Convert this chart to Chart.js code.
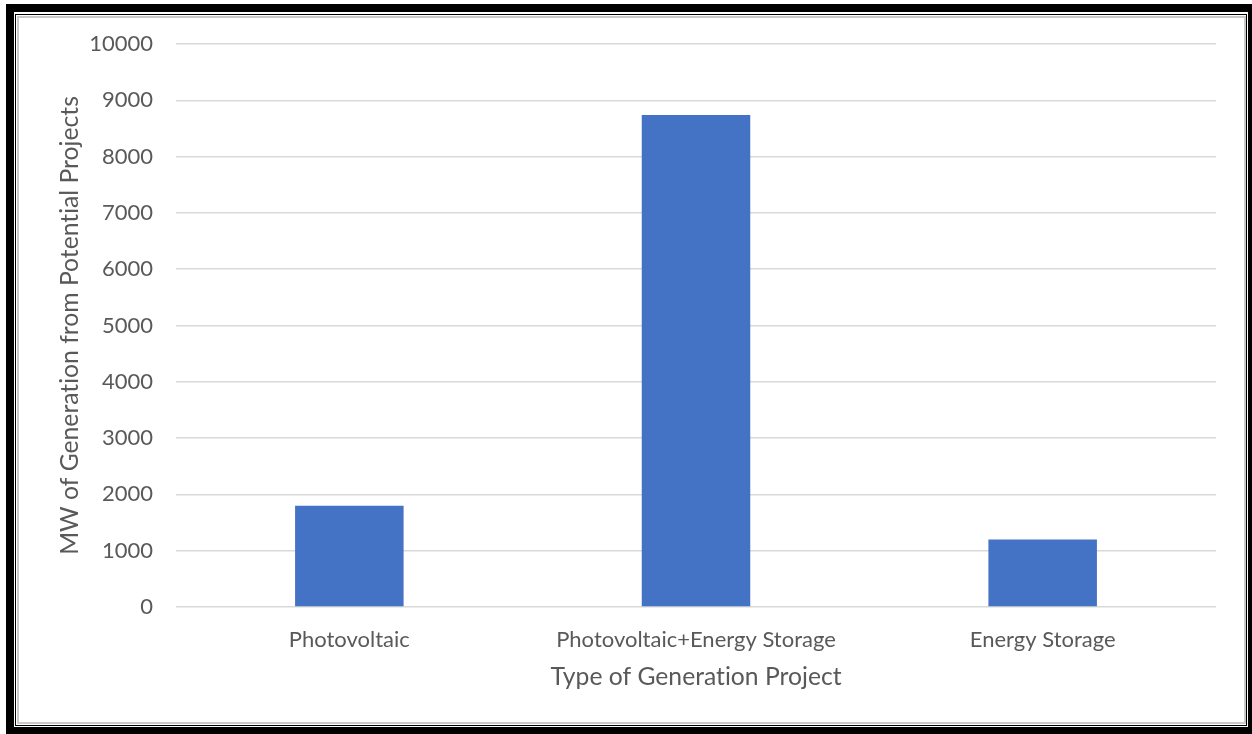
<!DOCTYPE html>
<html>
<head>
<meta charset="utf-8">
<script src="https://cdn.jsdelivr.net/npm/chart.js@4/dist/chart.umd.min.js"></script>
<style>
  html, body { margin: 0; padding: 0; background: #ffffff; }
  body { width: 1252px; height: 734px; position: relative; overflow: hidden; }
  .frame { position: absolute; box-sizing: border-box; border-style: solid; }
  #outer { left: 6px; top: 4px; width: 1246px; height: 730px; border-color: #000; border-width: 8px 4px 7px 8px; }
  #thin { left: 15px; top: 14px; width: 1232px; height: 712px; border-color: #000; border-width: 1px; }
  #inner { left: 17px; top: 16px; width: 1229px; height: 708px; border-color: #c9c9c9; border-width: 2px; }
  #wrap { position: absolute; left: 0; top: 0; width: 1252px; height: 734px; }
</style>
</head>
<body>
<div class="frame" id="outer"></div>
<div class="frame" id="thin"></div>
<div class="frame" id="inner"></div>
<div id="wrap"><canvas id="chart" width="1252" height="734"></canvas></div>
<script>
// Installed capacity of potential projects, by generation type
const categories = ['Photovoltaic', 'Photovoltaic+Energy Storage', 'Energy Storage'];
const megawatts = [1800, 8740, 1200];
const yTicks = [0, 1000, 2000, 3000, 4000, 5000, 6000, 7000, 8000, 9000, 10000];
const xTitle = 'Type of Generation Project';
const yTitle = 'MW of Generation from Potential Projects';

const textColor = '#595959';
const gridColor = '#d9d9d9';
const fontFamily = 'Lato, "Open Sans", sans-serif';

// Plain glyphs, no "ti"/"fi" ligatures in the labels
const plainText = {
  id: 'plainText',
  beforeDraw(chart) { chart.ctx.textRendering = 'optimizeSpeed'; }
};

new Chart(document.getElementById('chart'), {
  type: 'bar',
  data: {
    labels: categories,
    datasets: [{
      data: megawatts,
      backgroundColor: '#4472c4',
      borderWidth: 0,
      categoryPercentage: 1.0,
      barPercentage: 0.313
    }]
  },
  plugins: [plainText],
  options: {
    responsive: false,
    animation: false,
    layout: { padding: { top: 44, right: 36, left: 0, bottom: 0 } },
    plugins: { legend: { display: false }, tooltip: { enabled: false } },
    scales: {
      x: {
        grid: { display: false, drawTicks: false },
        border: { display: false },
        ticks: { color: textColor, font: { family: fontFamily, size: 22 }, padding: 20, maxRotation: 0 },
        title: {
          display: true, text: xTitle, color: textColor,
          font: { family: fontFamily, size: 24.7 }, padding: { top: 0, bottom: 42 }
        },
        afterFit: s => { s.height = 127; }
      },
      y: {
        min: 0, max: 10000,
        afterBuildTicks: s => { s.ticks = yTicks.map(v => ({ value: v })); },
        grid: { color: gridColor, lineWidth: 1.5, drawTicks: false },
        border: { display: false },
        ticks: {
          color: textColor, font: { family: fontFamily, size: 22 }, padding: 23,
          callback: v => String(v)
        },
        title: {
          display: true, text: yTitle, color: textColor,
          font: { family: fontFamily, size: 24.7 }, padding: { top: 55, bottom: 0 }
        },
        afterFit: s => { s.width = 176; }
      }
    }
  }
});
</script>
</body>
</html>
